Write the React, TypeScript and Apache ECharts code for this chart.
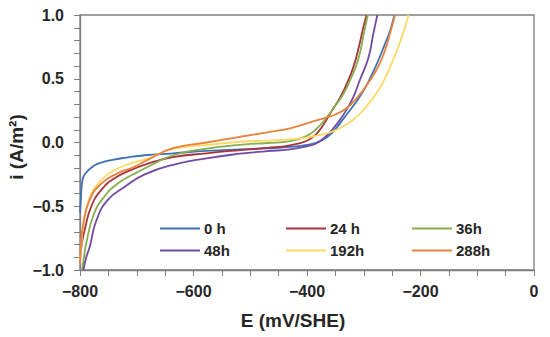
import React, { useEffect, useRef } from "react";
import * as echarts from "echarts";

const seriesNames = ["0 h", "24 h", "36h", "48h", "192h", "288h"];
const seriesColors = ["#3F72B5", "#A8333A", "#86AE4E", "#7249A3", "#FFD966", "#E8823C"];

const curve0h: number[][] = [
  [-800, -0.55], [-798.5, -0.45], [-797, -0.34], [-794, -0.27], [-788, -0.23], [-778, -0.19],
  [-768, -0.165], [-745, -0.138], [-715, -0.116], [-686, -0.1], [-636, -0.085], [-577, -0.066],
  [-518, -0.054], [-470, -0.046], [-430, -0.035], [-400, -0.018], [-383, 0.0], [-370, 0.027],
  [-359, 0.062], [-348, 0.115], [-336, 0.185], [-324, 0.255], [-310, 0.34], [-295, 0.45],
  [-285, 0.54], [-274, 0.647], [-262, 0.78], [-254, 0.87], [-246, 1.0],
];
const curve24h: number[][] = [
  [-800, -0.9], [-797, -0.8], [-792, -0.69], [-780, -0.5], [-762, -0.37], [-739, -0.28],
  [-710, -0.215], [-680, -0.165], [-636, -0.115], [-577, -0.085], [-518, -0.06], [-470, -0.042],
  [-430, -0.022], [-401, 0.012], [-385, 0.06], [-371, 0.14], [-356, 0.25], [-342, 0.35],
  [-330, 0.46], [-318, 0.595], [-307, 0.78], [-301, 0.9], [-295, 1.0],
];
const curve36h: number[][] = [
  [-796, -1.0], [-793, -0.9], [-789, -0.79], [-777, -0.58], [-760, -0.44], [-733, -0.32],
  [-704, -0.245], [-680, -0.19], [-636, -0.1], [-577, -0.048], [-518, -0.018], [-470, -0.004],
  [-430, 0.01], [-401, 0.05], [-385, 0.1], [-371, 0.165], [-354, 0.265], [-336, 0.38],
  [-323, 0.5], [-310, 0.647], [-300, 0.85], [-293, 1.0],
];
const curve48h: number[][] = [
  [-794, -1.0], [-789, -0.9], [-783, -0.82], [-771, -0.61], [-751, -0.45], [-721, -0.347],
  [-686, -0.25], [-636, -0.175], [-577, -0.124], [-518, -0.088], [-470, -0.068], [-430, -0.054],
  [-400, -0.03], [-383, -0.006], [-365, 0.055], [-351, 0.124], [-340, 0.19], [-330, 0.26],
  [-318, 0.36], [-306, 0.5], [-292, 0.66], [-283, 0.856], [-276, 1.0],
];
const curve192h: number[][] = [
  [-800, -0.92], [-798, -0.82], [-792, -0.58], [-780, -0.4], [-762, -0.294], [-739, -0.216],
  [-710, -0.163], [-680, -0.124], [-636, -0.05], [-577, -0.02], [-518, 0.006], [-470, 0.015],
  [-430, 0.024], [-400, 0.04], [-371, 0.065], [-345, 0.105], [-318, 0.18], [-298, 0.27],
  [-280, 0.37], [-264, 0.49], [-249, 0.64], [-235, 0.8], [-221, 1.0],
];
const curve288h: number[][] = [
  [-800, -0.95], [-798, -0.8], [-795, -0.66], [-783, -0.45], [-762, -0.32], [-733, -0.24],
  [-704, -0.19], [-680, -0.135], [-636, -0.045], [-577, 0.0], [-518, 0.045], [-470, 0.08],
  [-430, 0.111], [-400, 0.15], [-371, 0.19], [-350, 0.22], [-330, 0.27], [-310, 0.36],
  [-290, 0.48], [-274, 0.6], [-262, 0.73], [-254, 0.85], [-245, 1.0],
];
const curves = [curve0h, curve24h, curve36h, curve48h, curve192h, curve288h];

const xTickLabels: Record<number, string> = { [-800]: "\u2212800", [-600]: "\u2212600", [-400]: "\u2212400", [-200]: "\u2212200", 0: "0" };
const yTickLabels: Record<string, string> = { "1": "1.0", "0.5": "0.5", "0": "0.0", "-0.5": "\u22120.5", "-1": "\u22121.0" };

const legendPos = [
  { left: 160, top: 221 }, { left: 286, top: 221 }, { left: 412, top: 221 },
  { left: 160, top: 243 }, { left: 286, top: 243 }, { left: 412, top: 243 },
];

const FONT = "'Liberation Sans', Arial, sans-serif";
const AXIS_COLOR = "#7F7F7F";
const TEXT_COLOR = "#262626";

export default function App() {
  const ref = useRef<HTMLDivElement>(null);
  useEffect(() => {
    document.body.style.margin = "0";
    if (!ref.current) return;
    const chart = echarts.init(ref.current, undefined, { renderer: "svg" });
    chart.setOption({
      animation: false,
      backgroundColor: "#ffffff",
      grid: { left: 80, top: 15, right: 16, bottom: 67, show: true, borderColor: AXIS_COLOR, borderWidth: 1.3 },
      xAxis: {
        type: "value", min: -800, max: 0, interval: 200,
        axisLine: { onZero: false, lineStyle: { color: AXIS_COLOR, width: 1.3 } },
        axisTick: { show: true, length: 6, inside: false, lineStyle: { color: AXIS_COLOR } },
        minorTick: { show: true, splitNumber: 4, length: 6, lineStyle: { color: AXIS_COLOR } },
        splitLine: { show: false },
        axisLabel: {
          margin: 13, fontSize: 16, fontWeight: "bold", fontFamily: FONT, color: TEXT_COLOR,
          formatter: (v: number) => xTickLabels[v] ?? String(v),
        },
      },
      yAxis: {
        type: "value", min: -1, max: 1, interval: 0.5,
        axisLine: { show: true, onZero: false, lineStyle: { color: AXIS_COLOR, width: 1.3 } },
        axisTick: { show: true, length: 6, inside: false, lineStyle: { color: AXIS_COLOR } },
        minorTick: { show: true, splitNumber: 5, length: 6, lineStyle: { color: AXIS_COLOR } },
        splitLine: { show: false },
        axisLabel: {
          margin: 16, fontSize: 16, fontWeight: "bold", fontFamily: FONT, color: TEXT_COLOR,
          formatter: (v: number) => yTickLabels[String(v)] ?? String(v),
        },
      },
      legend: seriesNames.map((n, k) => ({
        data: [n], left: legendPos[k].left, top: legendPos[k].top,
        icon: "rect", itemWidth: 40, itemHeight: 2, itemGap: 4,
        textStyle: { fontSize: 15, fontWeight: "bold", fontFamily: FONT, color: TEXT_COLOR, padding: [0, 0, 0, -1] },
        padding: 0,
      })),
      graphic: [
        {
          type: "text", x: 293, y: 320,
          style: { text: "E (mV/SHE)", fontSize: 19, fontWeight: "bold", fontFamily: FONT, fill: TEXT_COLOR, textAlign: "center", textVerticalAlign: "middle" },
        },
        {
          type: "text", x: 16, y: 147, rotation: Math.PI / 2,
          style: { text: "i (A/m\u00B2)", fontSize: 19, fontWeight: "bold", fontFamily: FONT, fill: TEXT_COLOR, textAlign: "center", textVerticalAlign: "middle" },
        },
      ],
      series: seriesNames.map((n, k) => ({
        name: n, type: "line", data: curves[k], showSymbol: false, symbol: "none",
        smooth: 0.5, lineStyle: { color: seriesColors[k], width: 1.8 },
        itemStyle: { color: seriesColors[k] }, clip: true,
      })),
    });
    return () => chart.dispose();
  }, []);
  return <div ref={ref} style={{ width: 550, height: 337 }} />;
}
